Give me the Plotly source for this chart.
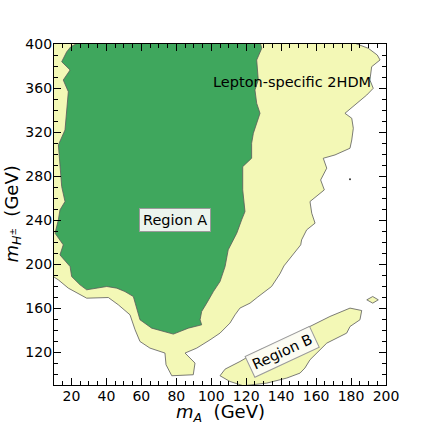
import plotly.graph_objects as go

# ---- data (GeV) ----
# outer (yellow) allowed region, clockwise from top-left
outer_x = [5, 182.3, 189.9, 195.0, 196.6, 191.8, 190.8, 192.7, 189.0, 183.2, 176.5, 180.4, 181.3,
           180.4, 179.4, 170.8, 164.1, 166.1, 162.6, 164.7, 156.5, 157.5, 159.4, 154.6, 151.7,
           151.2, 148.1, 144.1, 141.6, 139.3, 134.5, 126.7, 122.2, 116.4, 113.6, 110.7, 105.0,
           99.3, 93.6, 91.7, 85.0, 90.7, 89.7, 77.4, 74.1, 73.5, 64.9, 59.2, 56.4, 53.5, 46.8,
           41.1, 28.7, 18.2, 12.5, 9.6, 5]
outer_y = [405, 400.6, 396.1, 390.0, 385.5, 379.4, 367.3, 359.8, 353.7, 346.2, 337.1, 332.6, 323.5,
           312.9, 305.4, 299.3, 296.3, 287.3, 276.6, 267.6, 257.0, 246.4, 237.4, 231.3, 222.2,
           217.7, 211.6, 204.1, 198.6, 191.4, 179.9, 170.5, 164.8, 160.3, 154.2, 146.7, 137.6,
           131.5, 125.5, 124.0, 119.5, 110.4, 99.8, 98.9, 108.9, 119.5, 124.0, 130.0, 140.6, 154.2,
           163.3, 169.9, 169.3, 178.4, 185.9, 188.9, 190]

# inner (green) region A
inner_x = [24.9, 127.9, 128.9, 126.0, 126.9, 125.0, 126.0, 127.9, 124.1, 123.1, 123.1, 118.0,
           118.0, 119.3, 117.4, 114.6, 109.7, 107.9, 105.0, 101.2, 97.4, 94.5, 93.6, 94.5, 86.9,
           78.3, 65.9, 59.2, 55.4, 50.6, 45.9, 40.2, 28.7, 24.9, 20.1, 19.2, 13.4, 15.3, 10.6,
           12.5, 13.4, 16.3, 14.4, 13.4, 12.5, 16.3, 17.3, 18.2, 15.3, 19.2, 14.4, 15.3, 17.3,
           19.7, 24.9]
inner_y = [402, 402, 396.1, 385.5, 367.3, 358.3, 346.2, 337.1, 319.0, 309.9, 296.3, 288.7,
           267.6, 247.9, 240.4, 228.3, 213.2, 198.0, 184.4, 175.3, 164.8, 157.2, 149.7, 145.1,
           142.1, 136.7, 142.1, 149.7, 170.8, 175.3, 178.4, 179.9, 176.9, 181.4, 188.9, 198.0,
           208.6, 217.7, 228.3, 240.4, 249.4, 257.0, 270.6, 291.8, 308.4, 322.0, 340.1, 356.7,
           367.3, 376.4, 383.9, 387.0, 393.0, 397.6, 402]

# region B
regb_x = [105.0, 107.9, 116.4, 127.9, 137.4, 148.9, 160.3, 167.9, 179.4, 186.1, 185.1, 179.4,
          177.5, 166.1, 156.5, 153.6, 150.8, 143.2, 131.7, 118.3, 110.7, 105.0]
regb_y = [98.9, 104.9, 111.8, 122.4, 128.5, 137.6, 146.7, 152.7, 160.3, 158.1, 149.7, 143.6,
          137.6, 128.5, 113.4, 105.9, 101.3, 96.8, 92.2, 89.8, 93.7, 98.9]

# small island near the right edge
isl_x = [189.0, 192.4, 195.6, 192.4, 189.0]
isl_y = [167.8, 170.8, 167.8, 164.8, 167.8]

# isolated speck
dot_x = [179.4]
dot_y = [277.3]

x_range = [10, 200]
y_range = [90.5, 400]
x_ticks = [20, 40, 60, 80, 100, 120, 140, 160, 180, 200]
y_ticks = [120, 160, 200, 240, 280, 320, 360, 400]

YELLOW = "#f3f8b6"
GREEN = "#3fa75d"
EDGE = "#5a5a5a"
FONT = "DejaVu Sans"

fig = go.Figure()
for xs, ys, col in [(outer_x, outer_y, YELLOW), (inner_x, inner_y, GREEN),
                    (regb_x, regb_y, YELLOW), (isl_x, isl_y, YELLOW)]:
    fig.add_trace(go.Scatter(x=xs, y=ys, mode="lines", fill="toself",
                             fillcolor=col, line=dict(color=EDGE, width=0.8),
                             hoverinfo="skip", showlegend=False))
fig.add_trace(go.Scatter(x=dot_x, y=dot_y, mode="markers",
                         marker=dict(color="#333333", size=2),
                         hoverinfo="skip", showlegend=False))

fig.add_annotation(x=146.4, y=365.8, text="Lepton-specific 2HDM", showarrow=False,
                   font=dict(family=FONT, size=14.5, color="black"))
fig.add_annotation(x=79.2, y=240.4, text="Region A", showarrow=False,
                   font=dict(family=FONT, size=14.5, color="black"),
                   bgcolor="rgba(244,248,244,0.95)", bordercolor="#9a9a9a",
                   borderwidth=1, borderpad=3)
fig.add_annotation(x=140.3, y=120.9, text="Region B", showarrow=False, textangle=-25,
                   font=dict(family=FONT, size=14.5, color="black"),
                   bgcolor="rgba(252,252,246,0.95)", bordercolor="#9a9a9a",
                   borderwidth=1, borderpad=3)

# axis titles (placed in paper coordinates just outside the plot area)
fig.add_annotation(xref="paper", yref="paper", x=0.5, y=0, yshift=-28, yanchor="middle",
                   text="<i>m</i><sub><i>A</i></sub>  (GeV)", showarrow=False,
                   font=dict(family=FONT, size=18, color="black"))
fig.add_annotation(xref="paper", yref="paper", x=0, y=0.5, xshift=-42, xanchor="center",
                   textangle=-90,
                   text="<i>m</i><sub><i>H</i><sup>±</sup></sub>  (GeV)", showarrow=False,
                   font=dict(family=FONT, size=18, color="black"))

axis_common = dict(showgrid=False, zeroline=False, showline=True, linecolor="black",
                   linewidth=1.2, mirror="allticks", ticks="inside", ticklen=7,
                   tickwidth=1.2, tickcolor="black", automargin=False,
                   tickfont=dict(family=FONT, size=14, color="black"))

fig.update_xaxes(range=x_range, tickvals=x_ticks, **axis_common, ticklabelstandoff=-2,
                 minor=dict(dtick=5, tick0=0, ticks="inside", ticklen=4, tickwidth=1,
                            tickcolor="black"))
fig.update_yaxes(range=y_range, tickvals=y_ticks, **axis_common, ticklabelstandoff=-2,
                 minor=dict(dtick=10, tick0=0, ticks="inside", ticklen=4, tickwidth=1,
                            tickcolor="black"))

fig.update_layout(width=429, height=429, margin=dict(l=54, r=43, t=44, b=44),
                  plot_bgcolor="white", paper_bgcolor="white",
                  font=dict(family=FONT))

# remove the default 8px page margin so the figure fills the window exactly
fig.write_html("out.html", config={"displayModeBar": False},
               post_script="document.body.style.margin='0';document.body.style.overflow='hidden';")
